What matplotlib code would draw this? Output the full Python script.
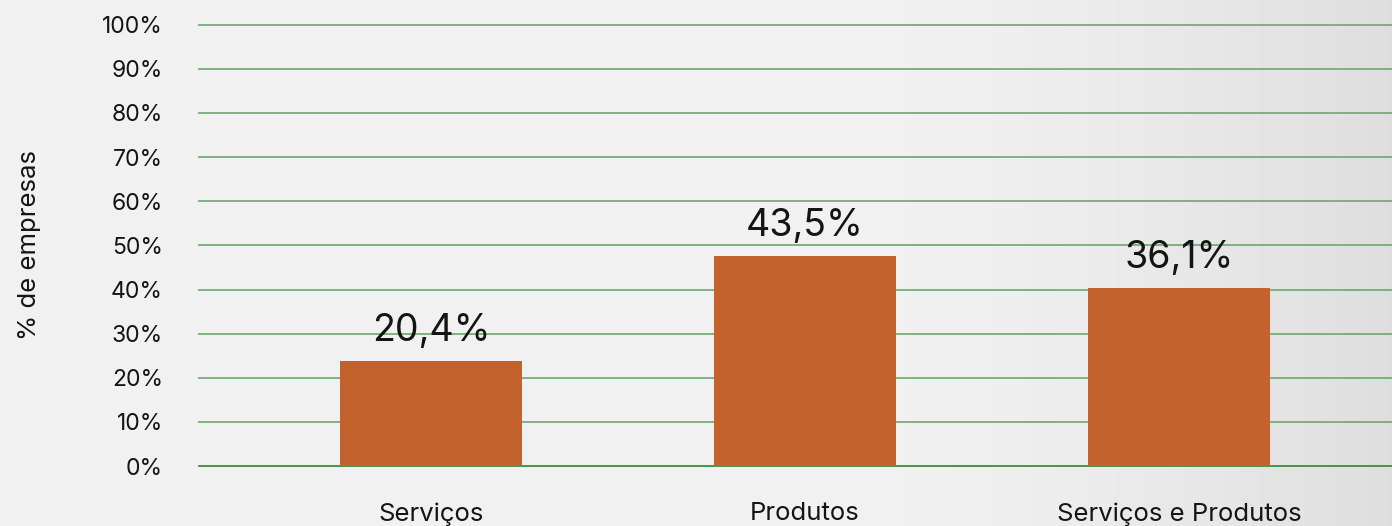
import numpy as np
import matplotlib
matplotlib.use("Agg")
import matplotlib.pyplot as plt
from matplotlib.ticker import FuncFormatter

plt.rcParams['font.family'] = ['Inter', 'DejaVu Sans']

categories = ['Serviços', 'Produtos', 'Serviços e Produtos']
# bar heights as drawn in the picture (% of axis)
bar_heights = [23.8, 47.5, 40.3]
# value labels printed above the bars
bar_labels = ['20,4%', '43,5%', '36,1%']
y_ticks = [0, 10, 20, 30, 40, 50, 60, 70, 80, 90, 100]

BAR_COLOR = '#C4622D'
GRID_COLOR = '#74ad74'
TEXT_COLOR = '#141414'

fig = plt.figure(figsize=(13.92, 5.26), dpi=100)

# paper-like background with a soft gradient to the right
bg = fig.add_axes([0, 0, 1, 1], zorder=-10)
grad = np.linspace(0, 1, 256)
shade = 0.945 - 0.075 * np.clip((grad - 0.6) / 0.4, 0, 1) ** 1.5
bg.imshow(np.tile(shade, (2, 1)), cmap='gray', vmin=0, vmax=1,
          aspect='auto', extent=[0, 1, 0, 1])
bg.set_axis_off()

ax = fig.add_axes([0.143, 0.114, 0.857, 0.839])
ax.patch.set_alpha(0)

x = np.arange(len(categories))
bars = ax.bar(x, bar_heights, width=0.487, color=BAR_COLOR, zorder=3)
ax.bar_label(bars, labels=bar_labels, padding=9, fontsize=27,
             color=TEXT_COLOR)

for t in y_ticks:
    ax.axhline(t, color='#3f8a3f' if t == 0 else GRID_COLOR,
               linewidth=1.3, zorder=1, clip_on=False)

ax.set_ylim(0, 100)
ax.set_xlim(-0.62, 2.57)
ax.set_yticks(y_ticks)
ax.yaxis.set_major_formatter(FuncFormatter(lambda v, p: f'{v:.0f}%'))
ax.set_xticks(x)
ax.set_xticklabels(categories)
ax.tick_params(axis='y', length=0, pad=26, labelsize=16.5, labelcolor=TEXT_COLOR)
ax.tick_params(axis='x', length=0, pad=26, labelsize=18.5, labelcolor=TEXT_COLOR)
for s in ax.spines.values():
    s.set_visible(False)

ax.set_ylabel('% de empresas', fontsize=18.5, color=TEXT_COLOR, labelpad=44)

fig.savefig('out.png', dpi=100)
